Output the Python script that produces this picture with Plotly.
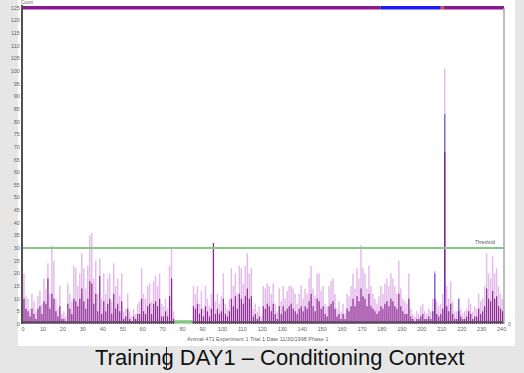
import plotly.graph_objects as go

# ---- data ----
seconds = list(range(0, 241))

light = [
    20, 11, 10, 6, 12, 9, 5, 11, 13, 8,
    18, 14, 24, 12, 31, 25, 10, 6, 15, 4,
    5, 3, 16, 12, 9, 23, 22, 15, 20, 28,
    22, 14, 23, 35, 36, 18, 25, 12, 26, 10,
    20, 12, 18, 20, 9, 24, 15, 18, 11, 20,
    5, 6, 12, 5, 3, 6, 4, 8, 9, 22,
    12, 10, 15, 16, 9, 17, 19, 15, 20, 8,
    7, 10, 6, 23, 30, 5, 0, 0, 0, 0,
    0, 0, 0, 0, 0, 15, 12, 15, 8, 13,
    6, 15, 10, 7, 12, 32, 9, 12, 8, 11,
    20, 8, 6, 10, 22, 15, 20, 12, 23, 22,
    16, 23, 28, 20, 22, 6, 8, 5, 7, 3,
    15, 14, 16, 15, 12, 16, 8, 5, 14, 9,
    15, 10, 13, 15, 15, 14, 12, 8, 12, 15,
    10, 14, 12, 18, 23, 14, 11, 20, 20, 13,
    15, 8, 7, 15, 17, 18, 12, 6, 9, 5,
    8, 4, 12, 11, 15, 20, 14, 22, 18, 31,
    22, 20, 14, 23, 15, 12, 10, 8, 11, 15,
    12, 16, 18, 15, 20, 18, 15, 12, 25, 14,
    10, 9, 8, 20, 6, 4, 3, 5, 4, 7,
    8, 5, 4, 6, 5, 10, 21, 9, 7, 8,
    12, 101, 15, 10, 17, 9, 5, 5, 10, 6,
    4, 5, 6, 10, 8, 5, 7, 6, 12, 9,
    10, 15, 28, 20, 18, 27, 20, 22, 15, 12, 10,
]

dark = [
    10, 6, 5, 3, 6, 4, 2, 6, 7, 4,
    9, 8, 18, 6, 12, 10, 5, 3, 7, 2,
    2, 1, 8, 6, 4, 10, 9, 7, 10, 14,
    9, 6, 10, 17, 16, 8, 12, 5, 19, 4,
    9, 5, 8, 10, 4, 12, 6, 8, 5, 9,
    2, 3, 6, 2, 1, 3, 2, 4, 4, 10,
    5, 4, 7, 8, 4, 8, 9, 7, 10, 3,
    3, 5, 3, 11, 18, 2, 0, 0, 0, 0,
    0, 0, 0, 0, 0, 7, 6, 8, 4, 6,
    3, 7, 5, 3, 6, 32, 4, 6, 4, 5,
    10, 4, 3, 5, 10, 7, 11, 6, 12, 10,
    8, 11, 14, 10, 11, 3, 4, 2, 3, 1,
    7, 6, 8, 7, 5, 8, 4, 2, 7, 4,
    7, 5, 6, 7, 8, 6, 5, 4, 6, 7,
    5, 7, 6, 9, 12, 7, 5, 10, 9, 6,
    7, 4, 3, 7, 8, 9, 6, 3, 4, 2,
    4, 2, 6, 5, 7, 10, 7, 11, 9, 14,
    11, 10, 7, 12, 7, 6, 5, 4, 5, 7,
    6, 8, 9, 7, 10, 9, 7, 6, 12, 7,
    5, 4, 4, 10, 3, 2, 1, 2, 2, 3,
    4, 2, 2, 3, 2, 5, 10, 4, 3, 4,
    6, 68, 7, 5, 8, 4, 2, 2, 5, 3,
    2, 2, 3, 5, 4, 2, 3, 3, 6, 4,
    5, 7, 14, 10, 9, 13, 10, 11, 7, 6, 5,
]

blue_seconds = [206, 211, 218]
blue_values = [20, 83, 10]

threshold = 30
top_level = 125
top_segments = [(0, 179.4, "#8a1a8c"), (179.4, 209.5, "#1c1cf0"),
                (209.5, 211.0, "#f03c3c"), (211.0, 241.2, "#8a1a8c")]
freeze_segments = [(76, 85)]

x_ticks = list(range(0, 241, 10))
y_ticks = list(range(0, 126, 5))

title_text = "Animal 471 Experiment 1 Trial 1 Date 11/30/1998 Phase 1"
caption = "Training DAY1 \u2013 Conditioning Context"

# ---- figure ----
PL, PR, PT, PB = 23, 504, 5, 324
PW, PH = PR - PL, PB - PT


def px(xp):
    return (xp - PL) / PW


def py(yp):
    return (PB - yp) / PH


fig = go.Figure()

fig.add_trace(go.Bar(x=seconds, y=light, width=0.75, offset=0.1,
                     marker=dict(color="rgba(214,150,222,0.65)", line=dict(width=0))))
fig.add_trace(go.Bar(x=blue_seconds, y=blue_values, width=0.75, offset=0.1,
                     marker=dict(color="rgba(100,80,225,0.75)", line=dict(width=0))))
fig.add_trace(go.Bar(x=seconds, y=dark, width=0.6, offset=0.2,
                     marker=dict(color="rgba(125,15,130,0.85)", line=dict(width=0))))

# baseline
fig.add_trace(go.Scatter(x=[0, 241.2], y=[0.7, 0.7], mode="lines",
                         line=dict(color="#505050", width=2), hoverinfo="skip"))
for a, b in freeze_segments:
    fig.add_trace(go.Scatter(x=[a, b], y=[0.9, 0.9], mode="lines",
                             line=dict(color="#7fc97f", width=3), hoverinfo="skip"))

# threshold
fig.add_trace(go.Scatter(x=[0, 241.2], y=[threshold, threshold], mode="lines",
                         line=dict(color="#86c986", width=2), hoverinfo="skip"))

# top event bar
for a, b, c in top_segments:
    fig.add_trace(go.Scatter(x=[a, b], y=[top_level, top_level], mode="lines",
                             line=dict(color=c, width=3.5), hoverinfo="skip"))

fig.update_layout(
    width=524, height=373,
    margin=dict(l=PL, r=524 - PR, t=PT, b=373 - PB, autoexpand=False),
    paper_bgcolor="#e6e6e6",
    plot_bgcolor="white",
    barmode="overlay",
    showlegend=False,
    font=dict(family="Liberation Sans, Arial, sans-serif", color="#555"),
    shapes=[
        dict(type="rect", xref="paper", yref="paper",
             x0=px(18), x1=px(515), y0=py(346), y1=py(0),
             fillcolor="white", line=dict(width=0), layer="below"),
        dict(type="line", xref="paper", yref="paper", x0=1, x1=1, y0=0, y1=py(8),
             line=dict(color="#a8a8a8", width=1.5)),
        dict(type="line", xref="paper", yref="paper",
             x0=px(166.5), x1=px(166.5), y0=py(347), y1=py(368),
             line=dict(color="#222", width=1)),
    ],
    annotations=[
        dict(text=title_text, xref="paper", yref="paper",
             x=px(257), y=py(339), showarrow=False,
             font=dict(size=5.5, color="#666"), xanchor="center", yanchor="middle"),
        dict(text=caption, xref="paper", yref="paper",
             x=px(279), y=py(357), showarrow=False,
             font=dict(size=22, color="#111"), xanchor="center", yanchor="middle"),
        dict(text="Threshold", x=238, y=threshold, xref="x", yref="y",
             showarrow=False, font=dict(size=4.5, color="#555"),
             xanchor="right", yanchor="bottom", yshift=1),
        dict(text="0", xref="paper", yref="paper", x=px(510), y=0,
             showarrow=False, font=dict(size=5, color="#666"),
             xanchor="center", yanchor="middle"),
        dict(text="Count", xref="paper", yref="paper", x=px(19), y=py(2),
             showarrow=False, font=dict(size=4.5, color="#666"),
             xanchor="left", yanchor="middle"),
    ],
)

fig.update_xaxes(range=[0, 241.2], tickvals=x_ticks, ticktext=[str(v) for v in x_ticks],
                 tickfont=dict(size=5.5, color="#666"), showgrid=False, zeroline=False,
                 showline=False, ticks="", ticklen=0, automargin=False)
fig.update_yaxes(range=[0, 126.1], tickvals=y_ticks, ticktext=[str(v) for v in y_ticks],
                 tickfont=dict(size=5.5, color="#666"), showgrid=False, zeroline=False,
                 showline=True, linecolor="#505050", linewidth=2, ticks="", ticklen=2,
                 automargin=False)

fig.write_html(
    "out.html",
    config={"displayModeBar": False},
    post_script="document.body.style.margin='0';document.body.style.padding='0';"
                "document.body.style.overflow='hidden';",
)
